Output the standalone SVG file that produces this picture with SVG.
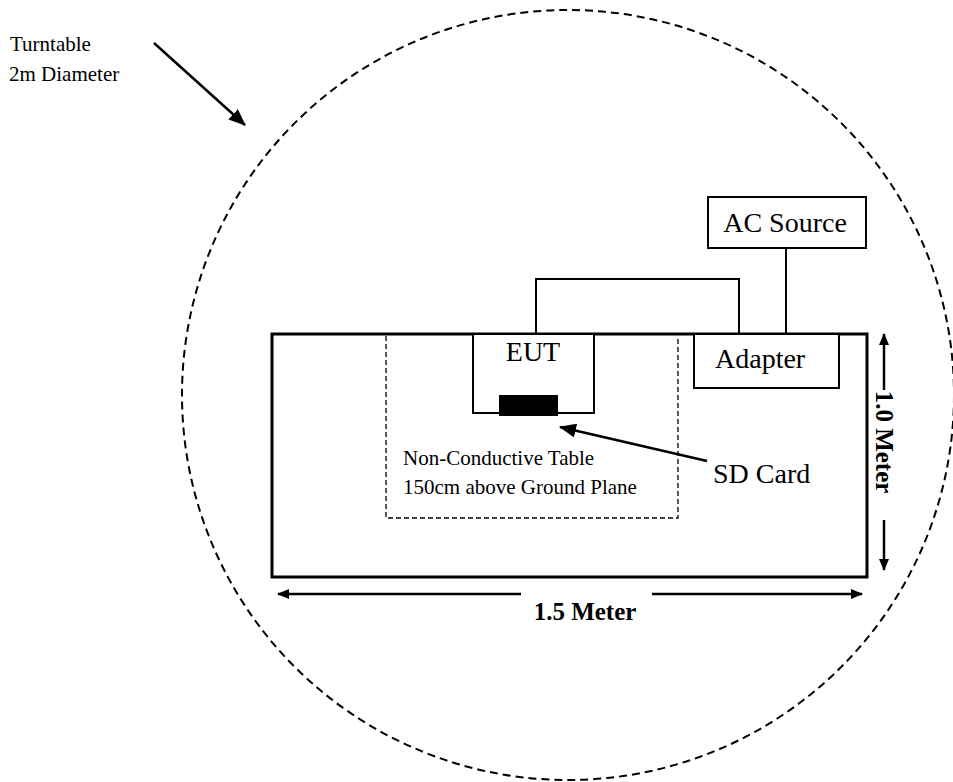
<svg xmlns="http://www.w3.org/2000/svg" width="953" height="782" viewBox="0 0 953 782">
<style>
text{font-family:"Liberation Serif","Times New Roman",serif;fill:#000}
.sm{font-size:21px}
.lg{font-size:28px}
.bd{font-size:25px;font-weight:bold}
.box{fill:#fff;stroke:#000;stroke-width:2}
.ln{fill:none;stroke:#000;stroke-width:2}
.ar{fill:none;stroke:#000;stroke-width:2.5}
</style>
<defs>
<marker id="ah" viewBox="0 0 12 10" refX="11" refY="5" markerWidth="12" markerHeight="10" markerUnits="userSpaceOnUse" orient="auto">
<path d="M0,0 L12,5 L0,10 Z" fill="#000"/>
</marker>
<marker id="ahb" viewBox="0 0 17 14" refX="16" refY="7" markerWidth="17" markerHeight="14" markerUnits="userSpaceOnUse" orient="auto">
<path d="M0,0 L17,7 L0,14 Z" fill="#000"/>
</marker>
</defs>
<g id="turntable">
<ellipse cx="568" cy="395" rx="386" ry="385" fill="none" stroke="#000" stroke-width="2" stroke-dasharray="8 5"/>
<text class="sm" x="10" y="51">Turntable</text>
<text class="sm" x="9" y="81">2m Diameter</text>
</g>
<g id="table">
<rect x="272" y="334" width="595" height="243" fill="none" stroke="#000" stroke-width="3"/>
</g>
<g id="nct">
<path d="M386,336 V518 H678 V336" fill="none" stroke="#000" stroke-width="1.3" stroke-dasharray="5 3"/>
<text class="sm" x="403" y="465">Non-Conductive Table</text>
<text class="sm" x="403" y="494">150cm above Ground Plane</text>
</g>
<g id="eut">
<rect class="box" x="473" y="334" width="121" height="79" stroke-width="1.5"/>
<text class="lg" x="533" y="361" text-anchor="middle">EUT</text>
<rect x="499" y="395" width="59" height="21" fill="#000"/>
</g>
<g id="adapter">
<rect class="box" x="694" y="334" width="145" height="54"/>
<text class="lg" x="715" y="368">Adapter</text>
</g>
<g id="acsource">
<rect class="box" x="708" y="197" width="158" height="51" stroke-width="1.5"/>
<text class="lg" x="785" y="232" text-anchor="middle">AC Source</text>
</g>
<g id="sdcard">
<text class="lg" x="713" y="483">SD Card</text>
</g>
<g id="connectors">
<polyline class="ln" points="536,334 536,279 739,279 739,334"/>
<line class="ln" x1="786" y1="248" x2="786" y2="334"/>
<line class="ar" x1="154" y1="43" x2="245" y2="125" marker-end="url(#ahb)"/>
<line class="ar" x1="707" y1="461" x2="560" y2="427" marker-end="url(#ahb)"/>
<line class="ar" x1="521" y1="594" x2="278" y2="594" marker-end="url(#ah)"/>
<line class="ar" x1="652" y1="594" x2="862" y2="594" marker-end="url(#ah)"/>
<line class="ar" x1="884" y1="390" x2="884" y2="334" marker-end="url(#ah)"/>
<line class="ar" x1="884" y1="520" x2="884" y2="570" marker-end="url(#ah)"/>
</g>
<g id="dims">
<text class="bd" x="585" y="620" text-anchor="middle">1.5 Meter</text>
<text class="bd" transform="translate(876,442) rotate(90)" text-anchor="middle">1.0 Meter</text>
</g>
</svg>
